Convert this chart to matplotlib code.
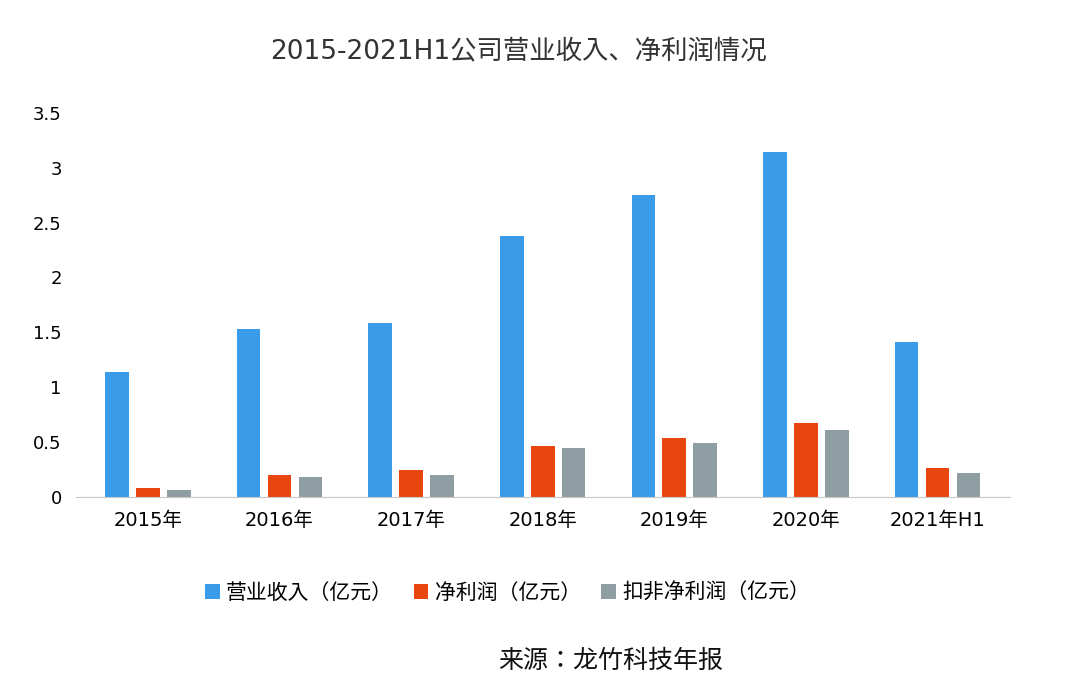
import matplotlib
matplotlib.use("Agg")
import matplotlib.pyplot as plt
from matplotlib import font_manager
import numpy as np

cjk=sorted({f.name for f in font_manager.fontManager.ttflist if "CJK" in f.name})
plt.rcParams["font.family"]=["DejaVu Sans"]+cjk

categories=["2015年","2016年","2017年","2018年","2019年","2020年","2021年H1"]
revenue=[1.14,1.53,1.58,2.38,2.75,3.14,1.41]
net_profit=[0.08,0.20,0.24,0.46,0.54,0.67,0.26]
deducted_profit=[0.06,0.18,0.20,0.44,0.49,0.61,0.22]
series_names=["营业收入（亿元）","净利润（亿元）","扣非净利润（亿元）"]
colors=["#3a9ce8","#e8450f","#8f9ea3"]
yticks=[0,0.5,1,1.5,2,2.5,3,3.5]
ytick_labels=["0","0.5","1","1.5","2","2.5","3","3.5"]

fig=plt.figure(figsize=(10.8,6.88),dpi=100)
ax=fig.add_axes([0.07,0.278,0.865,0.558])
x=np.arange(len(categories));w=0.18;off=0.235
for i,(vals,name,c) in enumerate(zip([revenue,net_profit,deducted_profit],series_names,colors)):
    ax.bar(x+(i-1)*off,vals,w,color=c,label=name)
ax.set_ylim(0,3.5);ax.set_xlim(-0.55,len(categories)-0.45)
ax.set_yticks(yticks,ytick_labels,fontsize=13)
ax.set_xticks(x,categories,fontsize=14)
for s in ["top","right","left"]:ax.spines[s].set_visible(False)
ax.spines["bottom"].set_color("#c8c8c8")
ax.tick_params(axis="both",length=0,pad=10)
fig.text(0.48,0.925,"2015-2021H1公司营业收入、净利润情况",ha="center",va="center",fontsize=19,color="#333333")
fig.legend(loc="center",bbox_to_anchor=(0.47,0.138),ncol=3,frameon=False,fontsize=15,handlelength=0.7,handleheight=0.7,columnspacing=1.0,handletextpad=0.3)
fig.text(0.565,0.04,"来源：龙竹科技年报",ha="center",va="center",fontsize=18,color="#111111")
fig.savefig("out.png",dpi=100)
